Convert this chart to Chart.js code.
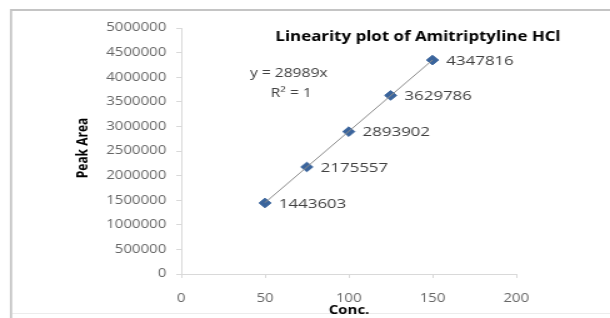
<!DOCTYPE html>
<html>
<head>
<meta charset="utf-8">
<script src="https://cdn.jsdelivr.net/npm/chart.js@4/dist/chart.umd.min.js"></script>
<style>
  html, body { margin: 0; padding: 0; background: #fff; overflow: hidden; }
  #wrap { width: 610px; height: 318px; position: relative; }
  /* la imagen original está estirada horizontalmente */
  #chart { width: 610px; height: 318px; display: block; }
</style>
</head>
<body>
<div id="wrap"><canvas id="chart" width="488" height="318" style="width:610px;height:318px"></canvas></div>
<script>
// --- Datos ---
const concentraciones = [50, 75, 100, 125, 150];
const areas = [1443603, 2175557, 2893902, 3629786, 4347816];
const trendX = [50, 150];
const trendY = [1449450, 4348350];
const xTicks = [0, 50, 100, 150, 200];
const yTicks = [0, 500000, 1000000, 1500000, 2000000, 2500000, 3000000, 3500000, 4000000, 4500000, 5000000];

const titulo = 'Linearity plot of Amitriptyline HCl';
const ecuacion = 'y = 28989x';
const r2 = 'R² = 1';

const FONT = '"Open Sans", "Liberation Sans", sans-serif';

// --- Plugin para textos y marco ---
const textosPlugin = {
    id: 'textos',
    beforeDraw(chart) {
        const ctx = chart.ctx;
        ctx.save();
        ctx.strokeStyle = '#c4c4c4';
        ctx.lineWidth = 1.8;
        ctx.beginPath();
        ctx.moveTo(8.8, 318);
        ctx.lineTo(8.8, 10);
        ctx.lineTo(488, 10);
        ctx.stroke();
        ctx.strokeStyle = '#ececec';
        ctx.lineWidth = 1;
        ctx.beginPath();
        ctx.moveTo(10, 313.5);
        ctx.lineTo(488, 313.5);
        ctx.stroke();
        ctx.restore();
    },
    afterDatasetsDraw(chart) {
        const ctx = chart.ctx;
        const meta = chart.getDatasetMeta(1);
        ctx.save();
        ctx.fillStyle = '#404040';
        ctx.font = '13.5px ' + FONT;
        ctx.textBaseline = 'middle';
        ctx.textAlign = 'left';
        meta.data.forEach((pt, i) => {
            ctx.fillText(String(areas[i]), pt.x + 11, pt.y + 1);
        });

        ctx.fillStyle = '#000';
        ctx.font = 'bold 13.5px ' + FONT;
        ctx.textAlign = 'center';
        ctx.fillText(titulo, 334.4, 37);

        ctx.fillStyle = '#404040';
        ctx.font = '12.5px ' + FONT;
        ctx.fillText(ecuacion, 231, 73);
        ctx.fillText(r2, 233, 93);

        ctx.fillStyle = '#000';
        ctx.font = 'bold 12px ' + FONT;
        ctx.fillText('Conc.', 279.2, 311);
        ctx.translate(67, 148);
        ctx.rotate(-Math.PI / 2);
        ctx.fillText('Peak Area', 0, 0);
        ctx.restore();
    }
};

new Chart(document.getElementById('chart'), {
    type: 'scatter',
    data: {
        datasets: [
            {
                type: 'line',
                data: trendX.map((x, i) => ({ x: x, y: trendY[i] })),
                borderColor: '#8c8c8c',
                borderWidth: 1,
                pointRadius: 0,
                fill: false
            },
            {
                data: concentraciones.map((x, i) => ({ x: x, y: areas[i] })),
                backgroundColor: '#3a649c',
                borderColor: '#3a649c',
                pointStyle: 'rectRot',
                pointRadius: 4.8,
                showLine: false
            }
        ]
    },
    options: {
        responsive: false,
        animation: false,
        devicePixelRatio: 1,
        layout: { padding: { left: 0, right: 75, top: 28, bottom: 0 } },
        plugins: {
            legend: { display: false },
            tooltip: { enabled: false },
            title: { display: false }
        },
        scales: {
            x: {
                type: 'linear',
                min: 0, max: 200,
                afterBuildTicks: (s) => { s.ticks = xTicks.map(v => ({ value: v })); },
                afterFit: (s) => { s.height = 44; },
                grid: { drawOnChartArea: false, drawTicks: true, tickLength: 4, color: '#d9d9d9' },
                border: { color: '#d9d9d9' },
                ticks: { color: '#666666', font: { family: FONT, size: 12 }, padding: 13, maxRotation: 0,
                         callback: (v) => String(v) }
            },
            y: {
                min: 0, max: 5000000,
                afterBuildTicks: (s) => { s.ticks = yTicks.map(v => ({ value: v })); },
                afterFit: (s) => { s.width = 145; },
                grid: { drawOnChartArea: false, drawTicks: true, tickLength: 4, color: '#d9d9d9' },
                border: { color: '#d9d9d9' },
                ticks: { color: '#666666', font: { family: FONT, size: 12 }, padding: 8,
                         callback: (v) => String(v) }
            }
        }
    },
    plugins: [textosPlugin]
});
</script>
</body>
</html>
